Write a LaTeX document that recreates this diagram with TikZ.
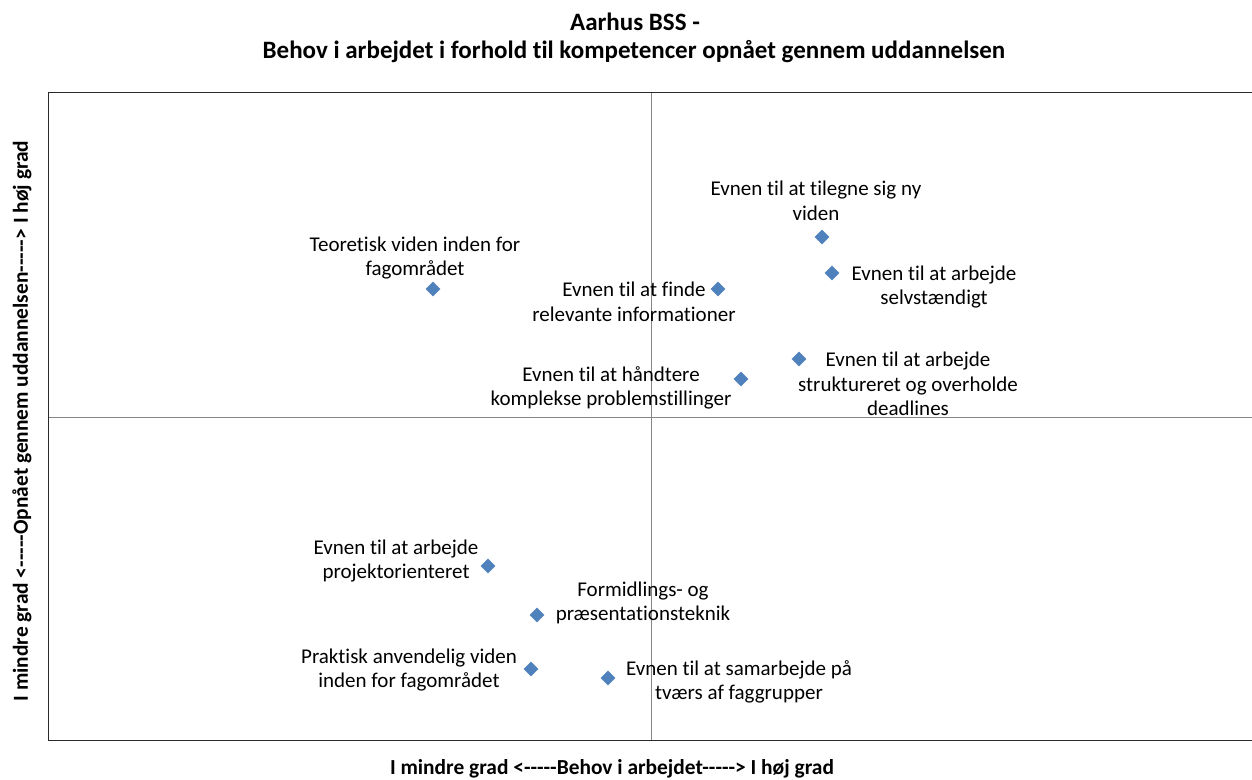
\documentclass[tikz,border=0pt]{standalone}
\usepackage{fontspec}
\setmainfont{Carlito}[Ligatures={NoCommon}]
\usetikzlibrary{shapes.geometric}
\definecolor{mk}{HTML}{4F81BD}
\definecolor{fr}{HTML}{2A2A2A}
\definecolor{gl}{HTML}{868686}
\newcommand{\dsh}{{-}{-}{-}{-}{-}}
\tikzset{
  pt/.style={diamond, fill=mk, draw=none, inner sep=0pt, minimum width=15pt, minimum height=15pt},
  lbl/.style={align=center, inner sep=0pt, font=\fontsize{21}{24.5}\selectfont},
  axl/.style={inner sep=0pt, font=\fontsize{21.4}{24}\selectfont\bfseries},
  ttl/.style={align=center, inner sep=0pt, font=\fontsize{25}{30}\selectfont\bfseries},
  frame/.style={draw=fr, line width=1.5pt},
  grid/.style={draw=gl, line width=1pt}
}
\begin{document}
\begin{tikzpicture}[x=1pt,y=-1pt]
\useasboundingbox (0,0) rectangle (1252,779);
% gridlines
\coordinate (vt) at (651,92.5);
\coordinate (vb) at (651,740.5);
\coordinate (hl) at (48.5,417);
\coordinate (hr) at (1252,417);
\draw[grid] (vt) -- (vb);
\draw[grid] (hl) -- (hr);
% frame
\coordinate (tl) at (48.5,92.5);
\coordinate (tr) at (1253,92.5);
\coordinate (bl) at (48.5,740.5);
\coordinate (br) at (1253,740.5);
\draw[frame] (tr) -- (tl) -- (bl) -- (br);
% title
\node[ttl] (t1) at (635,22) {Aarhus BSS -};
\node[ttl] (t2) at (634,52) {Behov i arbejdet i forhold til kompetencer opnået gennem uddannelsen};
% axis labels
\node[axl] (xl) at (612,769) {I mindre grad <\dsh Behov i arbejdet\dsh> I høj grad};
\node[axl, rotate=90] (yl) at (22,421) {I mindre grad <\dsh Opnået gennem uddannelsen\dsh> I høj grad};
% points
\node[pt] (p1) at (433,289) {};
\node[pt] (p2) at (718,289) {};
\node[pt] (p3) at (741,379) {};
\node[pt] (p4) at (822,237) {};
\node[pt] (p5) at (832,273) {};
\node[pt] (p6) at (799,359) {};
\node[pt] (p7) at (488,566) {};
\node[pt] (p8) at (537,615) {};
\node[pt] (p9) at (531,669) {};
\node[pt] (p10) at (608,678) {};
% labels
\node[lbl] (l1) at (415,258) {Teoretisk viden inden for\\fagområdet};
\node[lbl] (l2) at (634,302) {Evnen til at finde\\relevante informationer};
\node[lbl] (l3) at (611,388) {Evnen til at håndtere\\komplekse problemstillinger};
\node[lbl] (l4) at (816,201) {Evnen til at tilegne sig ny\\viden};
\node[lbl] (l5) at (934,287) {Evnen til at arbejde\\selvstændigt};
\node[lbl] (l6) at (908,384) {Evnen til at arbejde\\struktureret og overholde\\deadlines};
\node[lbl] (l7) at (396,561) {Evnen til at arbejde\\projektorienteret};
\node[lbl] (l8) at (643,603) {Formidlings- og\\præsentationsteknik};
\node[lbl] (l9) at (409,670) {Praktisk anvendelig viden\\inden for fagområdet};
\node[lbl] (l10) at (739,682) {Evnen til at samarbejde på\\tværs af faggrupper};
\end{tikzpicture}
\end{document}
